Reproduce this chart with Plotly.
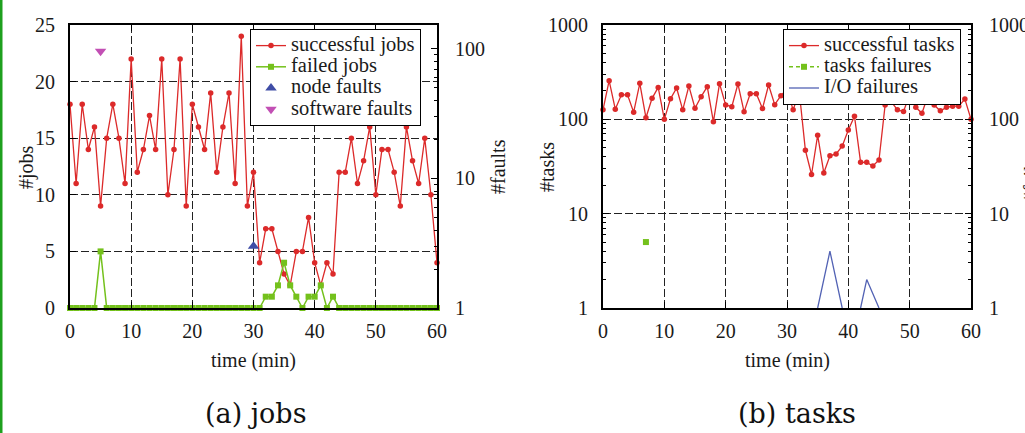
import plotly.graph_objects as go

# ---------------- data ----------------
minutes = list(range(61))

successful_jobs = [18, 11, 18, 14, 16, 9, 15, 18, 15, 11,
                   22, 12, 14, 17, 14, 22, 10, 14, 22, 9,
                   18, 16, 14, 19, 12, 16, 19, 11, 24, 9,
                   12, 4, 7, 7, 5, 3, 2, 5, 5, 8,
                   4, 2, 4, 3, 12, 12, 15, 11, 13, 16,
                   10, 14, 14, 12, 9, 16, 13, 11, 15, 10, 4]

failed_jobs = [0, 0, 0, 0, 0, 5, 0, 0, 0, 0,
               0, 0, 0, 0, 0, 0, 0, 0, 0, 0,
               0, 0, 0, 0, 0, 0, 0, 0, 0, 0,
               0, 0, 1, 1, 2, 4, 2, 1, 0, 1,
               1, 2, 0, 1, 0, 0, 0, 0, 0, 0,
               0, 0, 0, 0, 0, 0, 0, 0, 0, 0, 0]

node_fault_time = [30]
node_faults = [3]
software_fault_time = [5]
software_faults = [96]

successful_tasks = [126, 257, 128, 182, 182, 119, 241, 104, 167, 218,
                    100, 165, 215, 126, 225, 131, 174, 222, 94, 239,
                    142, 136, 237, 120, 187, 187, 130, 231, 143, 178,
                    208, 126, 196, 47, 26, 68, 27, 41, 43, 52,
                    77, 108, 35, 35, 32, 37, 142, 154, 126, 121,
                    184, 134, 116, 180, 142, 123, 134, 138, 138, 164, 100]

task_failure_time = [7]
task_failures = [5]

io_failure_time = [35, 37, 39, 40, 42, 43, 45]
io_failures = [1, 4, 1, None, 1, 2, 1]

x_ticks = [0, 10, 20, 30, 40, 50, 60]
jobs_ticks = [0, 5, 10, 15, 20, 25]
log_ticks_faults = [1, 10, 100]
log_ticks_tasks = [1, 10, 100, 1000]

# ---------------- style ----------------
RED = "#dc2a2a"
GREEN = "#74c11c"
BLUE = "#3f4da6"
MAGENTA = "#c24fb4"
IOBLUE = "#5262b4"
FONT = "Liberation Serif"
TXT = "#1a1a1a"
W, H = 1025, 433


def px(x):
    return x / W


def py(y):
    return (H - y) / H


def lg(name):
    return '<span style="font-size:20.5px">' + name + '</span>'


fig = go.Figure()

# ---- left panel: jobs ----
fig.add_trace(go.Scatter(x=minutes, y=successful_jobs, name=lg("successful jobs"),
                         mode="lines+markers", xaxis="x", yaxis="y",
                         line=dict(color=RED, width=1.3),
                         marker=dict(color=RED, size=5.5, symbol="circle"),
                         cliponaxis=False, legend="legend"))
fig.add_trace(go.Scatter(x=minutes, y=failed_jobs, name=lg("failed jobs"),
                         mode="lines+markers", xaxis="x", yaxis="y",
                         line=dict(color=GREEN, width=1.5),
                         marker=dict(color=GREEN, size=6, symbol="square"),
                         cliponaxis=False, legend="legend"))
fig.add_trace(go.Scatter(x=node_fault_time, y=node_faults, name=lg("node faults"),
                         mode="markers", xaxis="x", yaxis="y2",
                         marker=dict(color=BLUE, size=10, symbol="triangle-up"),
                         cliponaxis=False, legend="legend"))
fig.add_trace(go.Scatter(x=software_fault_time, y=software_faults, name=lg("software faults"),
                         mode="markers", xaxis="x", yaxis="y2",
                         marker=dict(color=MAGENTA, size=10, symbol="triangle-down"),
                         cliponaxis=False, legend="legend"))

# ---- right panel: tasks ----
fig.add_trace(go.Scatter(x=minutes, y=successful_tasks, name=lg("successful tasks"),
                         mode="lines+markers", xaxis="x2", yaxis="y3",
                         line=dict(color=RED, width=1.3),
                         marker=dict(color=RED, size=5.5, symbol="circle"),
                         cliponaxis=False, legend="legend2"))
fig.add_trace(go.Scatter(x=task_failure_time, y=task_failures, name=lg("tasks failures"),
                         mode="lines+markers", xaxis="x2", yaxis="y4",
                         line=dict(color=GREEN, width=1.5, dash="4px,3px"),
                         marker=dict(color=GREEN, size=6, symbol="square"),
                         cliponaxis=False, legend="legend2"))
fig.add_trace(go.Scatter(x=io_failure_time, y=io_failures, name=lg("I/O failures"),
                         mode="lines", xaxis="x2", yaxis="y4",
                         line=dict(color=IOBLUE, width=1.3),
                         connectgaps=False, legend="legend2"))

tickfont = dict(family=FONT, size=20, color=TXT)
grid = dict(showgrid=True, gridcolor="#222", gridwidth=1, griddash="8px,3px")
minor_log = dict(ticks="inside", ticklen=3, tickcolor="black", dtick="D1", showgrid=False)

xcommon = dict(range=[0, 60], tickvals=x_ticks, ticks="inside", ticklen=6,
               tickcolor="black", showline=True, linecolor="black", linewidth=2,
               mirror="ticks", zeroline=False, tickfont=tickfont,
               ticklabelstandoff=4, automargin=False, **grid)

yleft = dict(ticks="inside", ticklen=6, tickcolor="black", showline=True,
             linecolor="black", linewidth=2, zeroline=False, tickfont=tickfont,
             ticklabelstandoff=9, automargin=False)

yright = dict(ticks="inside", ticklen=6, tickcolor="black", showline=True,
              linecolor="black", linewidth=2, showgrid=False, zeroline=False,
              tickfont=tickfont, ticklabelstandoff=12, automargin=False,
              minor=minor_log)

legend_common = dict(xanchor="left", yanchor="top", bgcolor="white",
                     bordercolor="black", borderwidth=1,
                     font=dict(family=FONT, size=14, color=TXT),
                     itemwidth=30, tracegroupgap=0)


def title_ann(text, x, y, angle=0, size=20):
    return dict(text=text, x=px(x), y=py(y), xref="paper", yref="paper",
                xanchor="center", yanchor="middle", textangle=angle,
                showarrow=False, font=dict(family=FONT, size=size, color=TXT))


fig.update_layout(
    width=W, height=H,
    margin=dict(l=0, r=0, t=0, b=0),
    font=dict(family=FONT, color=TXT),
    paper_bgcolor="white", plot_bgcolor="white",
    showlegend=True,
    xaxis=dict(domain=[px(70), px(437)], anchor="y", **xcommon),
    xaxis2=dict(domain=[px(603), px(971)], anchor="y3", **xcommon),
    yaxis=dict(domain=[py(308), py(25)], anchor="x", range=[0, 25],
               tickvals=jobs_ticks, **yleft, **grid),
    yaxis2=dict(type="log", overlaying="y", side="right", anchor="x",
                range=[0, 2.185], tickvals=log_ticks_faults, **yright),
    yaxis3=dict(domain=[py(308), py(25)], anchor="x2", type="log", range=[0, 3],
                tickvals=log_ticks_tasks, minor=minor_log, **yleft, **grid),
    yaxis4=dict(type="log", overlaying="y3", side="right", anchor="x2",
                range=[0, 3], tickvals=log_ticks_tasks, **yright),
    legend=dict(x=px(250), y=py(29), **legend_common),
    legend2=dict(x=px(783), y=py(29), **legend_common),
    annotations=[
        title_ann("time (min)", 253, 360),
        title_ann("time (min)", 787, 360),
        title_ann("#jobs", 26, 167, -90),
        title_ann("#faults", 498, 167, -90),
        title_ann("#tasks", 547, 167, -90),
        title_ann("#failures", 1031, 167, -90),
        dict(text="(a) jobs", x=px(256), y=py(413), xref="paper", yref="paper",
             xanchor="center", yanchor="middle",
             showarrow=False, font=dict(family="DejaVu Serif", size=27, color="#111")),
        dict(text="(b) tasks", x=px(797), y=py(413), xref="paper", yref="paper",
             xanchor="center", yanchor="middle",
             showarrow=False, font=dict(family="DejaVu Serif", size=27, color="#111")),
    ],
    shapes=[dict(type="rect", xref="paper", yref="paper", x0=0, x1=px(2.5), y0=0, y1=1,
                 fillcolor="#1ea01e", line=dict(width=0))],
)

fig.write_html("out.html", config={"displayModeBar": False},
               post_script="document.body.style.margin='0';document.body.style.padding='0';")
